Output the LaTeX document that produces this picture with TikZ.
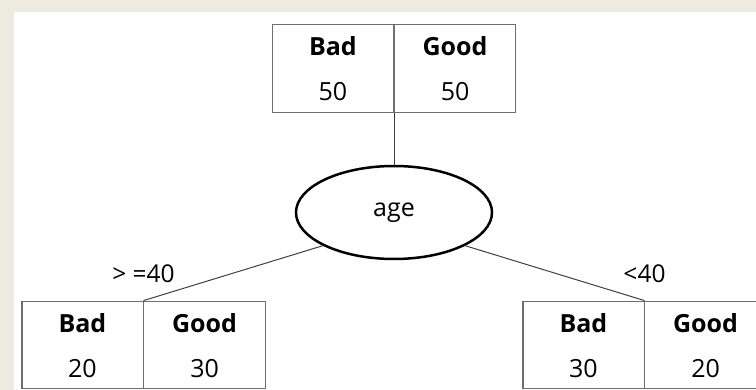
\documentclass[tikz,border=0pt]{standalone}
\usepackage{fontspec}
\setmainfont{Open Sans}
\usetikzlibrary{shapes.geometric,shapes.multipart}

\definecolor{paper}{RGB}{237,235,224}
\definecolor{cellrule}{RGB}{110,110,110}

% one split box: Bad | Good with the counts below
\newcommand\tally[2]{\rule{0pt}{20pt}\textbf{Bad}\\#1\nodepart{two}\rule{0pt}{20pt}\textbf{Good}\\#2}

\begin{document}
\begin{tikzpicture}[
  x=1pt, y=1pt,
  level 1/.style={level distance=144pt},
  level 2/.style={level distance=132.5pt, sibling distance=501pt},
  every node/.style={font=\fontsize{25}{45}\selectfont},
  counts/.style={rectangle split, rectangle split horizontal, rectangle split parts=2,
    draw=cellrule, line width=1.1pt, text width=121pt, align=center,
    inner xsep=0pt, inner ysep=11.25pt},
  split/.style={ellipse, draw, line width=2.5pt, minimum width=196pt,
    minimum height=93pt, inner sep=0pt},
  cut/.style={font=\fontsize{24.5}{28}\selectfont, label distance=14pt},
  child anchor=north,
  edge from parent/.style={draw=black!75, line width=1pt}
]
\useasboundingbox (0,0) rectangle (756,-390);
\clip (0,0) rectangle (756,-390);
\fill[paper] (0,0) rectangle (756,-390);
\fill[white] (14,-12) rectangle (756,-390);

\node[counts] (root) at (394,-68.5) {\tally{50}{50}}
    child {node[split] (age) {age}
        child[parent anchor=205] {node[counts,
            label={[cut]above:{> =40}}] (ge40) {\tally{20}{30}}}
        child[parent anchor=-25] {node[counts,
            label={[cut]above:{<40}}] (lt40) {\tally{30}{20}}}
    };
\end{tikzpicture}
\end{document}
